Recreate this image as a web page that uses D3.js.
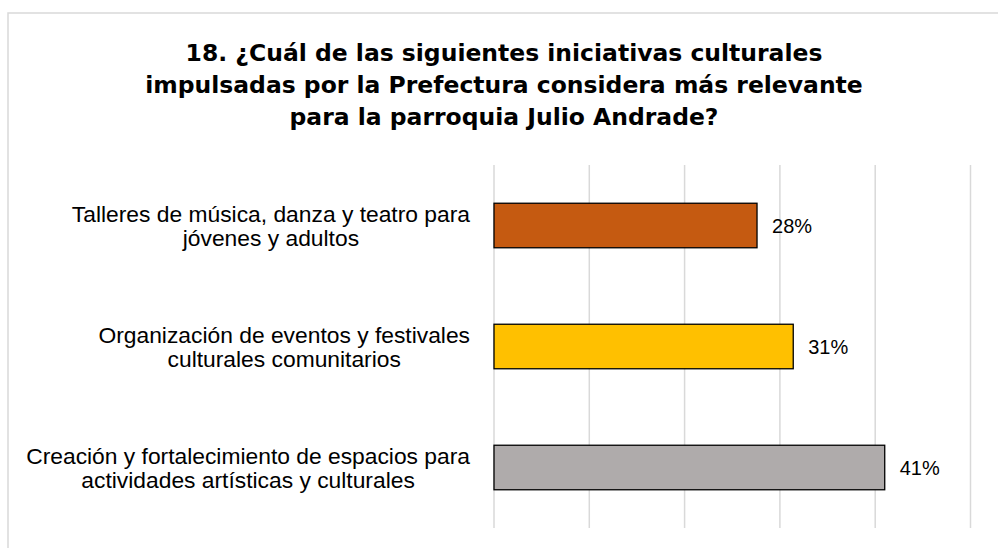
<!DOCTYPE html>
<html>
<head>
<meta charset="utf-8">
<script src="https://cdn.jsdelivr.net/npm/d3@7"></script>
<style>
  html, body { margin: 0; padding: 0; background: #fff; }
  svg { display: block; }
</style>
</head>
<body>
<svg id="chart" width="998" height="548"></svg>
<script>
const titleLines = [
  "18. ¿Cuál de las siguientes iniciativas culturales",
  "impulsadas por la Prefectura considera más relevante",
  "para la parroquia Julio Andrade?"
];
const categories = [
  ["Talleres de música, danza y teatro para", "jóvenes y adultos"],
  ["Organización de eventos y festivales", "culturales comunitarios"],
  ["Creación y fortalecimiento de espacios para", "actividades artísticas y culturales"]
];
const values = [0.276, 0.314, 0.41];
const colors = ["#C55A11", "#FFC000", "#AFABAB"];
const xTicks = [0, 0.1, 0.2, 0.3, 0.4, 0.5];

const svg = d3.select("#chart");

// frame
svg.append("rect")
  .attr("x", 8).attr("y", 13).attr("width", 1010).attr("height", 560)
  .attr("fill", "#fff").attr("stroke", "#D9D9D9").attr("stroke-width", 1.5);

const plot = { left: 494, right: 970.5, top: 165, bottom: 528 };

const x = d3.scaleLinear().domain([0, 0.5]).range([plot.left, plot.right]);
const y = d3.scaleBand().domain(d3.range(categories.length))
  .range([plot.top, plot.bottom]).paddingInner(0.632).paddingOuter(0.316);

// gridlines
svg.append("g").selectAll("line").data(xTicks).join("line")
  .attr("x1", d => x(d)).attr("x2", d => x(d))
  .attr("y1", plot.top).attr("y2", plot.bottom)
  .attr("stroke", "#D9D9D9").attr("stroke-width", 1.5);

// bars
svg.append("g").selectAll("rect").data(values).join("rect")
  .attr("x", x(0))
  .attr("y", (d, i) => y(i))
  .attr("width", d => x(d) - x(0))
  .attr("height", y.bandwidth())
  .attr("fill", (d, i) => colors[i])
  .attr("stroke", "#000").attr("stroke-width", 1.3);

const labelFont = "'Liberation Sans', Arial, sans-serif";

// value labels
const fmt = d3.format(".0%");
svg.append("g").selectAll("text").data(values).join("text")
  .attr("x", d => x(d) + 15)
  .attr("y", (d, i) => y(i) + y.bandwidth() / 2)
  .attr("dy", "0.35em")
  .attr("font-family", labelFont)
  .attr("font-size", 20)
  .attr("fill", "#000")
  .text(d => fmt(d));

// category labels
const labelG = svg.append("g");
const probe = labelG.append("text").attr("font-family", labelFont).attr("font-size", 20)
  .text(categories[2][0]);
const lfs = 20 * 444 / probe.node().getComputedTextLength();
probe.remove();

categories.forEach((lines, i) => {
  const cy = y(i) + y.bandwidth() / 2 + 1;
  const texts = lines.map(ln => labelG.append("text")
    .attr("font-family", labelFont).attr("font-size", lfs).attr("fill", "#000")
    .attr("text-anchor", "middle").text(ln));
  const maxW = d3.max(texts, t => t.node().getComputedTextLength());
  const cx = 470 - maxW / 2;
  texts.forEach((t, k) => {
    t.attr("x", cx).attr("y", cy + (k - (lines.length - 1) / 2) * 24).attr("dy", "0.35em");
  });
});

// title
const titleFont = "'DejaVu Sans', sans-serif";
const tg = svg.append("g");
const tprobe = tg.append("text").attr("font-family", titleFont).attr("font-weight", "bold")
  .attr("font-size", 24).text(titleLines[1]);
const tfs = 24 * 718 / tprobe.node().getComputedTextLength();
tprobe.remove();
tg.selectAll("text").data(titleLines).join("text")
  .attr("x", 504)
  .attr("y", (d, i) => 61 + i * 32)
  .attr("text-anchor", "middle")
  .attr("font-family", titleFont).attr("font-weight", "bold")
  .attr("font-size", tfs).attr("fill", "#000")
  .text(d => d);
</script>
</body>
</html>
